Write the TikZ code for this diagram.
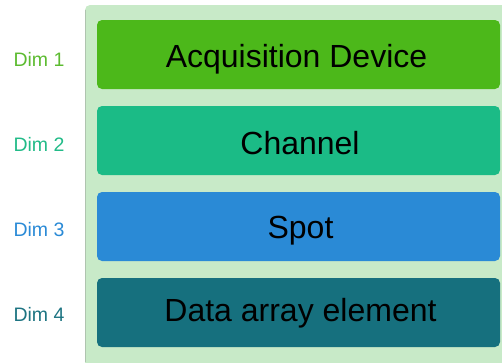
\documentclass[tikz,border=0pt]{standalone}
\usepackage{fontspec}
\setmainfont{Liberation Sans}
\definecolor{panel}{HTML}{C8EAC8}
\definecolor{panelline}{HTML}{AFC4AF}
\definecolor{cA}{HTML}{4CB81A}
\definecolor{cB}{HTML}{1BBB86}
\definecolor{cC}{HTML}{2A8AD6}
\definecolor{cD}{HTML}{16707E}
\definecolor{lA}{HTML}{5CBB30}
\definecolor{lB}{HTML}{22BB88}
\definecolor{lC}{HTML}{2A8AD6}
\definecolor{lD}{HTML}{1D7482}
\begin{document}
\begin{tikzpicture}[x=1pt,y=-1pt,
  layer/.style={rounded corners=5pt,minimum width=403pt,minimum height=69pt,inner sep=0pt},
  layertext/.style={anchor=base,inner sep=0pt,font=\fontsize{32}{38}\selectfont,text=black},
  dimlabel/.style={anchor=base,font=\fontsize{19.5}{23}\selectfont,inner sep=0pt}]
\useasboundingbox (0,0) rectangle (502,362);
\fill[panel,rounded corners=5pt] (85,5) rectangle (520,380);
\draw[panelline,line width=0.8pt] (85.4,10) -- (85.4,362);
\node[layer,fill=cA] (l1) at (298.5,54.5) {};
\node[layer,fill=cB] (l2) at (298.5,140.5) {};
\node[layer,fill=cC] (l3) at (298.5,226.5) {};
\node[layer,fill=cD] (l4) at (298.5,312.5) {};
\node[layertext] (t1) at (296.5,67.7) {Acquisition Device};
\node[layertext] (t2) at (300,154) {Channel};
\node[layertext] (t3) at (300.5,238.3) {Spot};
\node[layertext] (t4) at (300.5,321.7) {Data array element};
\node[dimlabel,text=lA] (d1) at (39,66.7) {Dim 1};
\node[dimlabel,text=lB] (d2) at (39,151.7) {Dim 2};
\node[dimlabel,text=lC] (d3) at (39,236.7) {Dim 3};
\node[dimlabel,text=lD] (d4) at (39,321.7) {Dim 4};
\end{tikzpicture}
\end{document}
